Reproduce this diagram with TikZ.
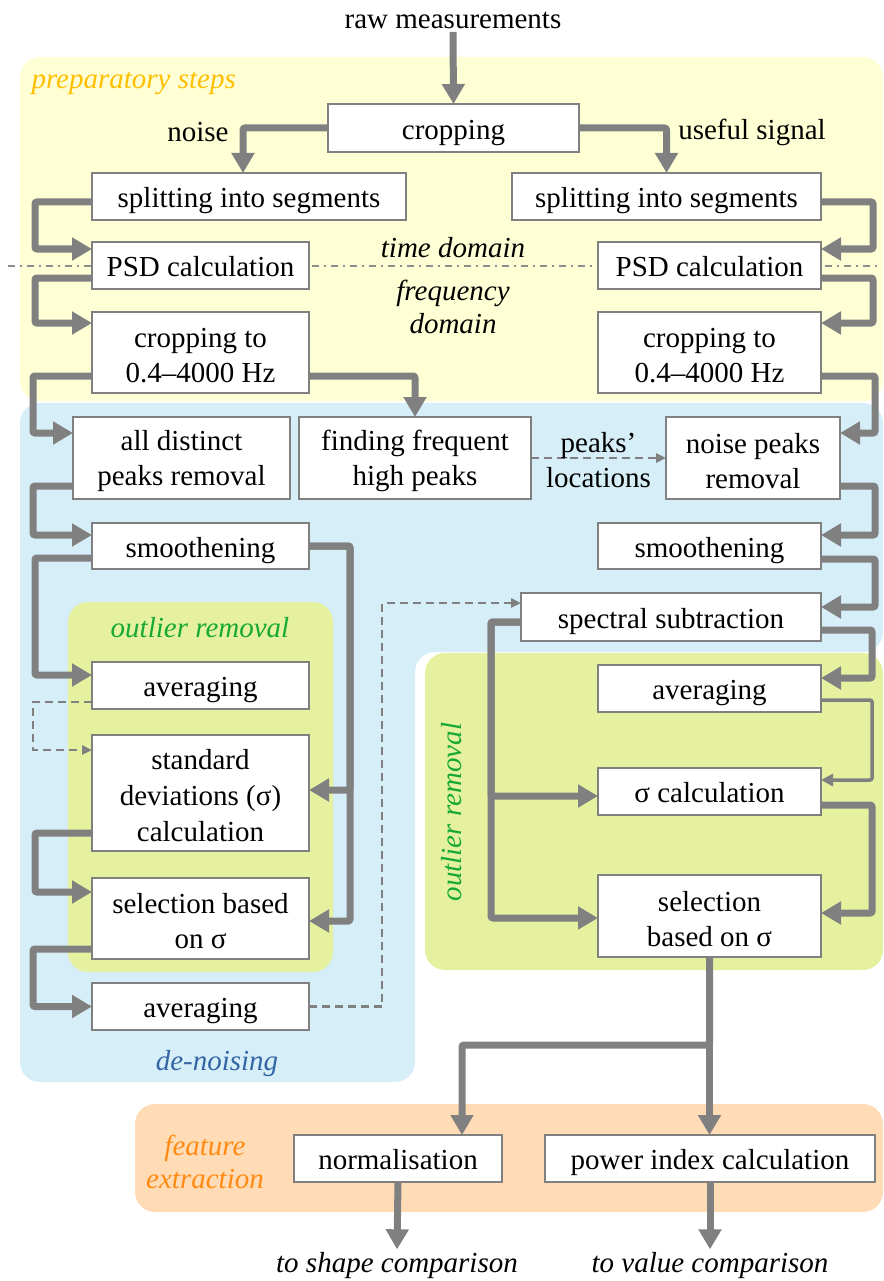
\documentclass[tikz,border=0pt]{standalone}
\usepackage{fontspec}
\setmainfont{Liberation Serif}
\usepackage{xcolor}
\usetikzlibrary{arrows.meta, positioning, calc}
\definecolor{linegray}{HTML}{808080}
\definecolor{prepbg}{HTML}{FFFFD6}
\definecolor{noisebg}{HTML}{D6EEF8}
\definecolor{outbg}{HTML}{E6F1A0}
\definecolor{featbg}{HTML}{FFDCB6}
\definecolor{preptxt}{HTML}{FFBF00}
\definecolor{outtxt}{HTML}{17A934}
\definecolor{noisetxt}{HTML}{3465A4}
\definecolor{feattxt}{HTML}{FF8A12}
\newcommand{\topgap}{\rule{0pt}{0.9em}}
\newcommand{\vfix}{\rule[-0.22em]{0pt}{1.22em}}
\tikzstyle{proc} = [draw=linegray, line width=2pt, fill=white, inner sep=0pt, outer sep=0pt, align=center]
\tikzstyle{flow} = [draw=linegray, line width=7pt, rounded corners=2pt, -{Triangle[length=20pt,width=22pt]}]
\tikzstyle{thinflow} = [draw=linegray, line width=3.5pt, rounded corners=2pt, -{Triangle[length=12pt,width=12pt]}]
\tikzstyle{hint} = [draw=linegray, line width=2.5pt, dash pattern=on 8pt off 5pt, -{Triangle[length=10pt,width=9pt]}]
\tikzstyle{tag} = [font=\fontsize{29}{33}\selectfont\itshape, align=center]

\begin{document}
\begin{tikzpicture}[x=1pt, y=-1pt, font=\fontsize{29}{35}\selectfont]
    \useasboundingbox (0,0) rectangle (883,1281);

    % Regions
    \fill[prepbg, rounded corners=20pt] (20,57) rectangle (883,401);
    \fill[noisebg, rounded corners=20pt] (20,403) -- (883,403) -- (883,652) -- (415,652) -- (415,1082) -- (20,1082) -- cycle;
    \fill[outbg, rounded corners=20pt] (68,602) rectangle (333,972);
    \fill[outbg, rounded corners=20pt] (425,653) rectangle (883,970);
    \fill[featbg, rounded corners=20pt] (135,1104) rectangle (883,1212);

    % Domain border
    \draw[linegray!90, line width=2.5pt, dash pattern=on 7pt off 5pt on 2pt off 5pt] (8,266) -- (880,266);

    % Region labels
    \node[tag, text=preptxt, anchor=west] (prep) at (28,83) {preparatory steps};
    \node[tag] (timedom) at (453,248) {time domain};
    \node[tag] (freqdom) at (453,307) {frequency\\domain};
    \node[tag, text=outtxt] (outL) at (200,628) {outlier removal};
    \node[tag, text=outtxt, rotate=90] (outR) at (452,812) {outlier removal};
    \node[tag, text=noisetxt] (denoise) at (217,1064) {de-noising};
    \node[tag, text=feattxt] (feat) at (205,1162) {feature\\extraction};

    % Preparatory steps
    \node (raw) at (453,20) {raw measurements};
    \node[proc, minimum width=251pt, minimum height=48pt] (crop) at (453.5,128) {\vfix cropping};
    \node (noise) at (198,132) {noise};
    \node (useful) at (752,132) {useful signal};
    \node[proc, minimum width=314pt, minimum height=47pt] (splitL) at (249,196.5) {\vfix splitting into segments};
    \node[proc, minimum width=309pt, minimum height=47pt] (splitR) at (666.5,196.5) {\vfix splitting into segments};
    \node[proc, minimum width=217pt, minimum height=47pt] (psdL) at (200.5,265.5) {\vfix PSD calculation};
    \node[proc, minimum width=223pt, minimum height=47pt] (psdR) at (709.5,265.5) {\vfix PSD calculation};
    \node[proc, minimum width=217pt, minimum height=81pt] (cropL) at (200.5,352.5) {\topgap cropping to\\0.4--4000 Hz};
    \node[proc, minimum width=223pt, minimum height=81pt] (cropR) at (709.5,352.5) {\topgap cropping to\\0.4--4000 Hz};

    % De-noising
    \node[proc, minimum width=217pt, minimum height=82pt] (distinct) at (181.5,458) {\topgap all distinct\\peaks removal};
    \node[proc, minimum width=232pt, minimum height=82pt] (findpk) at (415,458) {\topgap finding frequent\\high peaks};
    \node[proc, minimum width=174pt, minimum height=82pt] (noisepk) at (753,458) {\topgap noise peaks\\removal};
    \node[proc, minimum width=217pt, minimum height=46pt] (smoothL) at (200.5,546) {\vfix smoothening};
    \node[proc, minimum width=223pt, minimum height=46pt] (smoothR) at (709.5,546) {\vfix smoothening};
    \node[proc, minimum width=300pt, minimum height=48pt] (spectral) at (671,617) {\vfix spectral subtraction};
    \node[proc, minimum width=217pt, minimum height=47pt] (avgL) at (200.5,685.5) {\vfix averaging};
    \node[proc, minimum width=217pt, minimum height=116pt, font=\fontsize{29}{36}\selectfont] (stdL) at (200.5,793) {\topgap standard\\deviations (σ)\\calculation};
    \node[proc, minimum width=217pt, minimum height=81pt] (selL) at (200.5,918.5) {\topgap selection based\\on σ};
    \node[proc, minimum width=217pt, minimum height=47pt] (avgfin) at (200.5,1006.5) {\vfix averaging};
    \node[proc, minimum width=223pt, minimum height=47pt] (avgR) at (709.5,688.5) {\vfix averaging};
    \node[proc, minimum width=223pt, minimum height=47pt] (sigR) at (709.5,791.5) {\vfix σ calculation};
    \node[proc, minimum width=223pt, minimum height=82pt] (selR) at (709.5,916) {\topgap selection\\based on σ};

    % Feature extraction
    \node[proc, minimum width=208pt, minimum height=47pt] (norm) at (398,1158.5) {\vfix normalisation};
    \node[proc, minimum width=330pt, minimum height=47pt] (power) at (710,1158.5) {\vfix power index calculation};
    \node[tag] (shapecmp) at (397,1266) {to shape comparison};
    \node[tag] (valuecmp) at (710,1266) {to value comparison};

    % Preparatory arrows
    \draw[flow] (raw.south) -- (crop.north);
    \draw[flow] (crop.west) -| ([xshift=-6pt]splitL.north);
    \draw[flow] (crop.east) -| (splitR.north);
    \draw[flow] ([yshift=-5.5pt]splitL.west) -- ++(-57,0) |- ([yshift=16.5pt]psdL.west);
    \draw[flow] ([yshift=-5.5pt]splitR.east) -- ++(52,0) |- ([yshift=16.5pt]psdR.east);
    \draw[flow] ([yshift=-12.5pt]psdL.west) -- ++(-57,0) |- ([yshift=29.5pt]cropL.west);
    \draw[flow] ([yshift=-12.5pt]psdR.east) -- ++(52,0) |- ([yshift=29.5pt]cropR.east);

    % De-noising arrows
    \draw[flow] ([yshift=-23.5pt]cropL.west) -- ++(-59,0) |- ([yshift=25pt]distinct.west);
    \draw[flow] ([yshift=-23.5pt]cropL.east) -| (findpk.north);
    \draw[flow] ([yshift=-23.5pt]cropR.east) -- ++(54,0) |- ([yshift=25pt]noisepk.east);
    \draw[hint] (findpk.east) -- node[align=center, yshift=-2pt] {peaks’\\locations} (noisepk.west);
    \draw[flow] ([yshift=-28pt]distinct.west) -- ++(-40,0) |- ([yshift=11pt]smoothL.west);
    \draw[flow] ([yshift=-28pt]noisepk.east) -- ++(35,0) |- ([yshift=11pt]smoothR.east);
    \draw[flow] ([yshift=-13pt]smoothR.east) -- ++(54,0) |- ([yshift=10pt]spectral.east);
    \draw[flow] ([yshift=-12pt]smoothL.west) -- ++(-57,0) |- ([yshift=10.5pt]avgL.west);
    \draw[flow] (smoothL.east) -- ++(41,0) |- ([yshift=3pt]stdL.east);
    \draw[flow] (smoothL.east) -- ++(41,0) |- ([yshift=-2.5pt]selL.east);
    \draw[hint] ([yshift=-16.5pt]avgL.west) -- ++(-59,0) |- ([yshift=43pt]stdL.west);
    \draw[flow] ([yshift=-40pt]stdL.west) -- ++(-57,0) |- ([yshift=26.5pt]selL.west);
    \draw[flow] ([yshift=-30.5pt]selL.west) -- ++(-59,0) |- (avgfin.west);
    \draw[hint] (avgfin.east) -- ++(73,0) |- ([yshift=14pt]spectral.west);

    % Outlier removal arrows
    \draw[flow] ([yshift=-13pt]spectral.east) -- ++(51,0) |- ([yshift=10.5pt]avgR.east);
    \draw[thinflow] ([yshift=-11.5pt]avgR.east) -- ++(51,0) |- ([yshift=11.5pt]sigR.east);
    \draw[flow] ([yshift=-13.5pt]sigR.east) -- ++(51,0) |- ([yshift=3pt]selR.east);
    \draw[flow] ([yshift=-5pt]spectral.west) -- ++(-30,0) |- ([yshift=-4.5pt]sigR.west);
    \draw[flow] ([yshift=-5pt]spectral.west) -- ++(-30,0) |- ([yshift=-2pt]selR.west);

    % Feature arrows
    \draw[flow] (selR.south) -- ++(0,88) -| ([xshift=64pt]norm.north);
    \draw[flow] (selR.south) -- (selR.south |- power.north);
    \draw[flow] (norm.south) -- (shapecmp.north);
    \draw[flow] (power.south) -- (valuecmp.north);
\end{tikzpicture}
\end{document}
